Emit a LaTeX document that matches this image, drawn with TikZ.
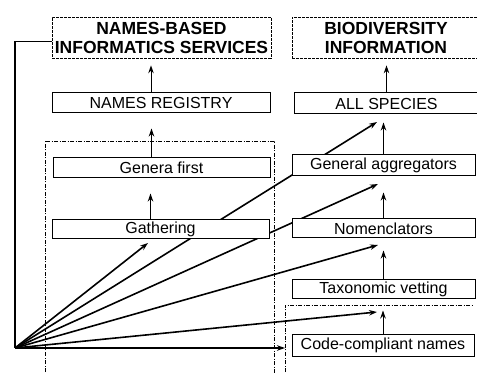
\documentclass[tikz,border=0pt]{standalone}
\usepackage{fontspec}
\setmainfont{Liberation Sans}
\usetikzlibrary{arrows.meta}
\tikzset{
  box/.style={draw,line width=1pt,fill=white,inner sep=0pt,font=\fontsize{16}{19}\selectfont},
  titlebox/.style={draw,line width=0.7pt,dash pattern=on 3pt off 1pt,fill=white,inner sep=0pt,
    align=center,font=\fontsize{17.5}{19}\selectfont\bfseries},
  region/.style={line width=0.7pt,dash pattern=on 4pt off 1.5pt on 1pt off 1.5pt},
  fan/.style={->,line width=1.6pt},
}

\begin{document}
\begin{tikzpicture}[x=1pt,y=-1pt,>={Stealth[length=8pt,width=5.5pt]}]
\useasboundingbox (0,0) rectangle (477,374);
\clip (0,0) rectangle (477,374);
% regions
\coordinate (lr) at (45,141);
\coordinate (rr) at (285,305);
\draw[region] (45,380) -- (lr) -- (274,141) -- (274,380);
\draw[region] (285,380) -- (rr) -- (473,305);
% fan
\coordinate (o) at (15,348);
\coordinate (a1) at (148,243);
\coordinate (a2) at (377,122);
\coordinate (a3) at (378,184);
\coordinate (a4) at (378,245);
\coordinate (a5) at (377,312);
\foreach \p in {a1,a2,a3,a4,a5}
  \draw[fan] (o) -- (\p);
\draw[fan] (o) -- (o -| rr);
% left column
\node[titlebox,minimum width=219pt,minimum height=41pt] (nbis) at (161.5,37.5) {NAMES-BASED\\INFORMATICS SERVICES};
\node[box,minimum width=218pt,minimum height=20pt] (reg) at (161,103) {NAMES REGISTRY};
\node[box,minimum width=217pt,minimum height=20pt] (gen) at (161.5,168) {Genera first};
\node[box,minimum width=217pt,minimum height=19pt] (gath) at (160.5,229.5) {Gathering};
% right column
\node[titlebox,minimum width=188pt,minimum height=41pt] (bio) at (386,37.5) {BIODIVERSITY\\INFORMATION};
\node[box,minimum width=185pt,minimum height=21pt] (alls) at (386.5,103.5) {ALL SPECIES};
\node[box,minimum width=183pt,minimum height=21pt] (agg) at (383.5,165.5) {General aggregators};
\node[box,minimum width=183pt,minimum height=19pt] (nom) at (383.5,228.5) {Nomenclators};
\node[box,minimum width=183pt,minimum height=19pt] (tax) at (383.5,289.5) {Taxonomic vetting};
\node[box,minimum width=182pt,minimum height=21pt] (code) at (383,345.5) {Code-compliant names};
% arrows
\foreach \a/\b/\s in {reg/nbis/7,gen/reg/15,gath/gen/15}
  \draw[->,line width=1pt,shorten >=\s pt] ([xshift=-10pt]\a.north) -- ([xshift=-10pt]\a.north |- \b.south);
\foreach \a/\b/\s in {alls/bio/7,agg/alls/8,nom/agg/16,tax/nom/12,code/tax/11}
  \draw[->,line width=1pt,shorten >=\s pt] (\a.north) -- (\a.north |- \b.south);
\draw[line width=1.2pt] ([yshift=-4pt]nbis.west) -| (o);
\end{tikzpicture}
\end{document}
